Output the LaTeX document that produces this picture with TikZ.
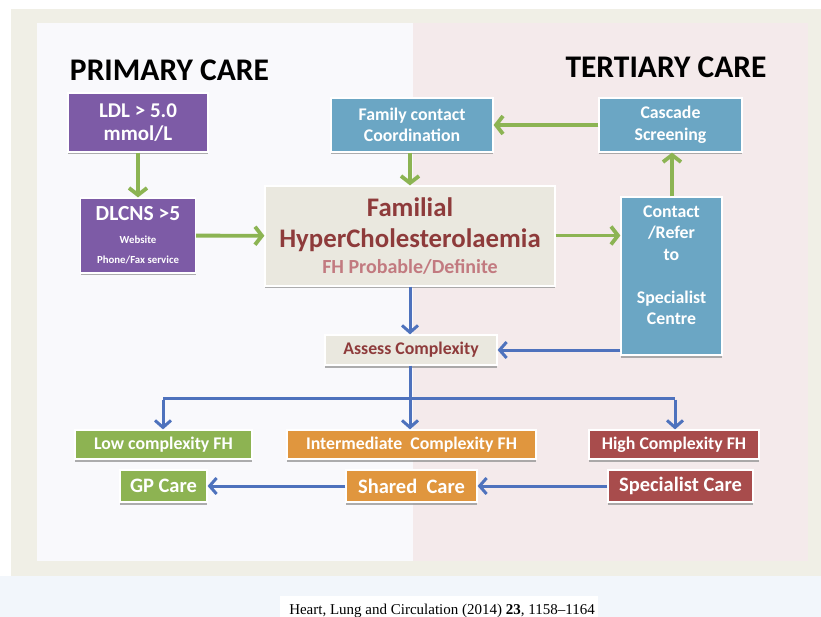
\documentclass[tikz,border=0pt]{standalone}
\usepackage{fontspec}
\setmainfont{Carlito}
\newfontfamily\citefont{Liberation Serif}
\usetikzlibrary{arrows.meta,shadows}
\definecolor{cpurple}{HTML}{7D5BA6}
\definecolor{cblue}{HTML}{6BA6C4}
\definecolor{cgreen}{HTML}{8DB352}
\definecolor{corange}{HTML}{E0963E}
\definecolor{cdred}{HTML}{A84C4C}
\definecolor{cbeige}{HTML}{EAE8DF}
\definecolor{ctred}{HTML}{8E3B3B}
\definecolor{cpink}{HTML}{C27A80}
\definecolor{agreen}{HTML}{8CB453}
\definecolor{ablue}{HTML}{4E72BD}
\definecolor{outerbg}{HTML}{F0EFE6}
\definecolor{leftbg}{HTML}{F9F9FC}
\definecolor{rightbg}{HTML}{F4EAEB}
\definecolor{bottombg}{HTML}{F2F6FB}
\tikzset{
  box/.style={draw=white, line width=1.2pt, text=white, align=center, inner sep=0pt,
    drop shadow={shadow xshift=0pt, shadow yshift=-2.5pt, fill=black!45, opacity=0.7}},
  garrow/.style={draw=agreen, line width=3.8pt, -{Straight Barb[length=7pt,width=18pt,line width=3.8pt]}},
  barrow/.style={draw=ablue, line width=3pt, -{Straight Barb[length=7pt,width=16pt,line width=3pt]}},
  bline/.style={draw=ablue, line width=3pt},
  title/.style={font=\fontsize{31.5}{32}\selectfont\bfseries, text=black},
  fmid/.style={font=\fontsize{17.8}{21.5}\selectfont\bfseries},
  fbig/.style={font=\fontsize{20.5}{22}\selectfont\bfseries}
}
\begin{document}
\begin{tikzpicture}[x=1pt,y=-1pt]
\useasboundingbox (0,0) rectangle (821,617);
% backgrounds
\fill[white] (0,0) rectangle (821,617);
\fill[outerbg] (11,9) rectangle (821,576);
\fill[bottombg] (0,576) rectangle (821,617);
\fill[leftbg] (37,23) rectangle (413,561);
\fill[rightbg] (413,23) rectangle (808,561);
\fill[white] (280,596) rectangle (598,617);
% titles
\node[title] (pc) at (169.5,70) {PRIMARY CARE};
\node[title] (tc) at (666,67) {TERTIARY CARE};
% boxes
\node[box, fill=cpurple, minimum width=140pt, minimum height=59pt, font=\fontsize{21}{23}\selectfont\bfseries] (ldl) at (138,122.5) {LDL > 5.0\\mmol/L};
\node[box, fill=cpurple, minimum width=115pt, minimum height=75pt, font=\fontsize{21.5}{20}\selectfont\bfseries] (dlcns) at (138,235.5) {DLCNS >5\\[3pt]{\fontsize{10.8}{12}\selectfont Website}\\{\fontsize{10.8}{12}\selectfont Phone/Fax service}};
\node[box, fill=cblue, minimum width=162pt, minimum height=54pt, fmid] (fam) at (412,125) {Family contact\\Coordination};
\node[box, fill=cblue, minimum width=143pt, minimum height=54pt, fmid] (casc) at (670.5,125) {Cascade\\Screening};
\node[box, fill=cbeige, minimum width=290pt, minimum height=100pt, font=\fontsize{26.8}{31}\selectfont\bfseries] (fh) at (410,236) {\color{ctred}Familial\\\color{ctred}HyperCholesterolaemia\\[-5pt]{\fontsize{20}{22}\selectfont\color{cpink}FH Probable/Definite}};
\node[box, fill=cblue, minimum width=101pt, minimum height=158pt, fmid] (cont) at (671.5,276) {Contact\\/Refer\\to\\[21.5pt]Specialist\\Centre\\\mbox{}};
\node[box, fill=cbeige, text=ctred, minimum width=172pt, minimum height=30pt, fmid] (assess) at (411,350) {Assess Complexity};
\node[box, fill=cgreen, minimum width=177pt, minimum height=29pt, fmid] (low) at (163.5,444.5) {Low complexity FH};
\node[box, fill=corange, minimum width=249pt, minimum height=29pt, fmid] (inter) at (411.5,444.5) {Intermediate\ \ Complexity FH};
\node[box, fill=cdred, minimum width=170pt, minimum height=29pt, fmid] (high) at (674,444.5) {High Complexity FH};
\node[box, fill=cgreen, minimum width=87pt, minimum height=32pt, fbig] (gp) at (163.5,486) {GP Care};
\node[box, fill=corange, minimum width=131pt, minimum height=32pt, fbig] (shared) at (411.5,486) {Shared\ \ Care};
\node[box, fill=cdred, minimum width=145pt, minimum height=32pt, fbig] (spec) at (680.5,486) {Specialist Care};
% citation
\node[font=\citefont\fontsize{15}{17}\selectfont, anchor=base] (cite) at (442,614) {Heart, Lung and Circulation (2014) \textbf{23}, 1158–1164};
% green arrows
\draw[garrow] (ldl) -- (dlcns);
\draw[garrow] (dlcns) -- (fh);
\draw[garrow] (fam.south -| 410,0) -- (fh.north -| 410,0);
\draw[garrow] (fh.east |- dlcns) -- (cont.west |- dlcns);
\draw[garrow] (cont.north -| 672,0) -- (casc.south -| 672,0);
\draw[garrow] (casc) -- (fam);
% blue arrows
\draw[barrow] (fh.south -| 410,0) -- (assess.north -| 410,0);
\draw[barrow] (cont.west |- assess) -- (assess);
\coordinate (jn) at (410,398);
\coordinate (jl) at (163,398);
\coordinate (jr) at (675,398);
\draw[bline] (assess.south -| jn) -- (jn);
\draw[bline] (jl) -- (jr);
\draw[barrow] ([yshift=-1.5pt]jl) -- (low.north -| jl);
\draw[barrow] (jn) -- (inter.north -| jn);
\draw[barrow] ([yshift=-1.5pt]jr) -- (high.north -| jr);
\draw[barrow] (shared) -- (gp);
\draw[barrow] (spec) -- (shared);
\end{tikzpicture}
\end{document}
